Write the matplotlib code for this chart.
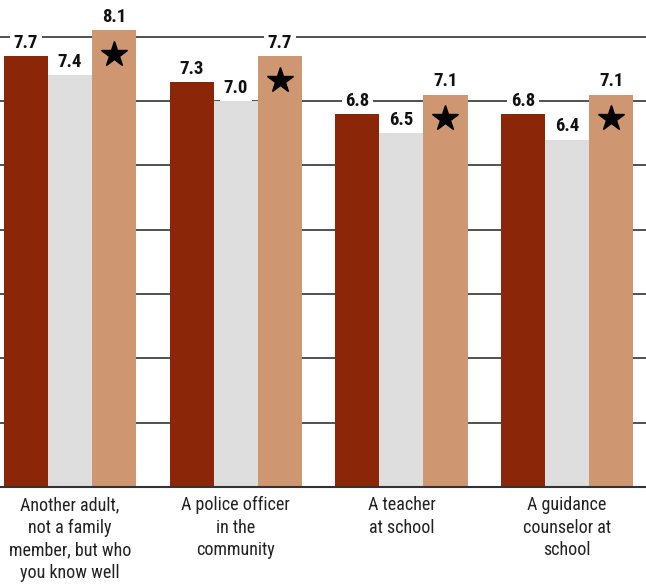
import matplotlib
matplotlib.use("Agg")
import matplotlib.pyplot as plt
import numpy as np

plt.rcParams['font.family'] = ['Roboto Condensed', 'DejaVu Sans']

categories = ["Another adult,\nnot a family\nmember, but who\nyou know well",
              "A police officer\nin the\ncommunity",
              "A teacher\nat school",
              "A guidance\ncounselor at\nschool"]
series_a = [7.7, 7.3, 6.8, 6.8]
series_b = [7.4, 7.0, 6.5, 6.4]
series_c = [8.1, 7.7, 7.1, 7.1]
starred_c = [True, True, True, True]

colors = ['#8c2609', '#dedede', '#cf9672']
width = 0.266

fig = plt.figure(figsize=(6.46, 5.84), dpi=100)
ax = fig.add_axes([0, 0.166, 1, 0.834])

x = np.arange(len(categories))
for i, (vals, col) in enumerate(zip([series_a, series_b, series_c], colors)):
    pos = x + (i - 1) * width
    ax.bar(pos, vals, width=width, color=col, zorder=2)
    for p, v in zip(pos, vals):
        ax.annotate('{:.1f}'.format(v), (p, v), xytext=(0, 3), textcoords='offset points',
                    ha='center', va='bottom', fontsize=13.5, fontweight='bold', color='#111111',
                    bbox=dict(boxstyle='square,pad=0.2', fc='white', ec='none'), zorder=4)
    if i == 2:
        for p, v, s in zip(pos, vals, starred_c):
            if s:
                ax.plot(p, v - 0.37, marker='*', color='black', markersize=19, zorder=3)

ax.set_ylim(1, 8.57)
ax.set_xlim(-0.4225, 3.476)
ax.set_yticks(np.arange(2, 9))
ax.yaxis.grid(True, color='#222222', linewidth=1.1, zorder=1)
ax.set_axisbelow(True)
ax.tick_params(axis='y', left=False, labelleft=False)
ax.tick_params(axis='x', bottom=False, pad=3)
ax.set_xticks(x)
ax.set_xticklabels(categories, fontsize=13, color='#222222', linespacing=1.33, va='top')
for side in ['top', 'left', 'right']:
    ax.spines[side].set_visible(False)
ax.spines['bottom'].set_color('#333333')
ax.spines['bottom'].set_linewidth(1.5)
ax.spines['bottom'].set_zorder(5)

fig.savefig('out.png', dpi=100)
